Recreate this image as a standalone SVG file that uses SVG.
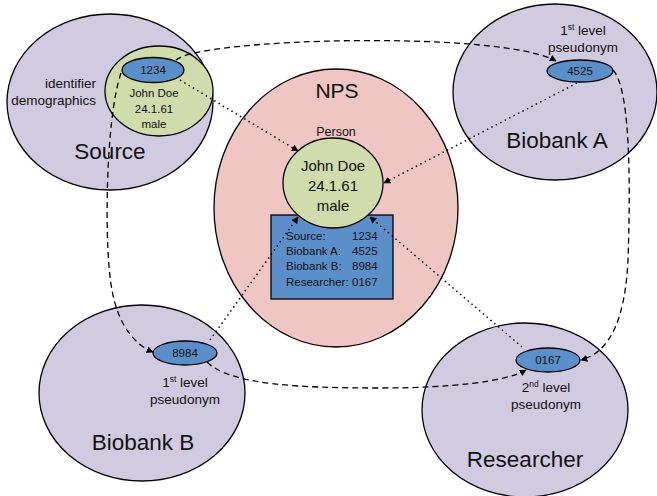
<svg xmlns="http://www.w3.org/2000/svg" width="657" height="496" viewBox="0 0 657 496">
<defs>
<style>
.org{fill:#d1cbe1;stroke:#000;stroke-width:1.3}
.nps{fill:#efc6c1;stroke:#000;stroke-width:1.3}
.per{fill:#d0dcab;stroke:#000;stroke-width:1.3}
.id{fill:#5b8fc9;stroke:#000;stroke-width:1.3}
text{font-family:"Liberation Sans",Arial,sans-serif;fill:#111}
.big{font-size:22.5px;text-anchor:middle}
.mid{font-size:13.5px;text-anchor:middle}
.sm{font-size:11.5px;text-anchor:middle}
.tb{font-size:11.5px}
.dash{fill:none;stroke:#000;stroke-width:1.3;stroke-dasharray:6 4;marker-end:url(#ah)}
.dot{fill:none;stroke:#000;stroke-width:1.5;stroke-dasharray:1.5 3.5;marker-end:url(#ah)}
</style>
<marker id="ah" viewBox="0 0 10 10" refX="9" refY="5" markerWidth="7" markerHeight="7" markerUnits="userSpaceOnUse" orient="auto">
<path d="M0,0 L10,5 L0,10 z" fill="#000"/>
</marker>
</defs>
<g id="source">
<ellipse class="org" cx="110" cy="102" rx="103" ry="88"/>
<ellipse class="per" cx="159" cy="91" rx="54" ry="45"/>
<ellipse class="id" cx="153" cy="70" rx="31" ry="12.5"/>
<text class="sm" x="153" y="74">1234</text>
<text class="sm" x="154" y="97">John Doe</text>
<text class="sm" x="154" y="113">24.1.61</text>
<text class="sm" x="154" y="128">male</text>
<text x="96" y="88" style="font-size:13.5px;text-anchor:end">identifier</text>
<text x="96" y="105" style="font-size:13.5px;text-anchor:end">demographics</text>
<text class="big" x="110" y="159">Source</text>
</g>
<g id="biobankA">
<ellipse class="org" cx="555" cy="92" rx="102" ry="88"/>
<ellipse class="id" cx="580" cy="71" rx="33" ry="11"/>
<text class="sm" x="580" y="75">4525</text>
<text class="mid" x="583" y="35">1<tspan style="font-size:8.5px" dy="-5">st</tspan><tspan dy="5"> level</tspan></text>
<text class="mid" x="583" y="52">pseudonym</text>
<text class="big" x="557" y="148">Biobank A</text>
</g>
<g id="nps">
<ellipse class="nps" cx="336" cy="208" rx="122" ry="139"/>
<text x="337" y="98" style="font-size:21px;text-anchor:middle">NPS</text>
<text x="336" y="136" style="font-size:12.5px;text-anchor:middle">Person</text>
<rect x="271" y="215" width="122" height="84" fill="#5b8fc9" stroke="#000" stroke-width="1.3"/>
<ellipse class="per" cx="333" cy="183" rx="50" ry="45"/>
<text x="333" y="171" style="font-size:15px;text-anchor:middle">John Doe</text>
<text x="333" y="191" style="font-size:15px;text-anchor:middle">24.1.61</text>
<text x="333" y="211" style="font-size:15px;text-anchor:middle">male</text>
<text class="tb" x="286" y="240">Source:</text><text class="tb" x="352" y="240">1234</text>
<text class="tb" x="286" y="255">Biobank A:</text><text class="tb" x="352" y="255">4525</text>
<text class="tb" x="286" y="270">Biobank B:</text><text class="tb" x="352" y="270">8984</text>
<text class="tb" x="286" y="286">Researcher:</text><text class="tb" x="352" y="286">0167</text>
</g>
<g id="biobankB">
<ellipse class="org" cx="142" cy="393" rx="103" ry="88"/>
<ellipse class="id" cx="185" cy="353" rx="32" ry="12"/>
<text class="sm" x="185" y="357">8984</text>
<text class="mid" x="185" y="387">1<tspan style="font-size:8.5px" dy="-5">st</tspan><tspan dy="5"> level</tspan></text>
<text class="mid" x="185" y="404">pseudonym</text>
<text class="big" x="143" y="450">Biobank B</text>
</g>
<g id="researcher">
<ellipse class="org" cx="525" cy="410" rx="103" ry="87"/>
<ellipse class="id" cx="548" cy="360" rx="32" ry="12"/>
<text class="sm" x="548" y="364">0167</text>
<text class="mid" x="546" y="392">2<tspan style="font-size:8.5px" dy="-5">nd</tspan><tspan dy="5"> level</tspan></text>
<text class="mid" x="546" y="409">pseudonym</text>
<text class="big" x="525" y="467">Researcher</text>
</g>
<g id="connectors">
<path class="dash" d="M176,60 C200,38 500,30 556,61"/>
<path class="dash" d="M613,70 C632,90 630,200 628,260 C625,320 610,352 581,360"/>
<path class="dash" d="M121,73 C105,120 104,250 112,290 C118,325 135,345 153,352"/>
<path class="dash" d="M207,362 C230,385 300,388 380,388 C450,388 505,382 526,370"/>
<path class="dot" d="M180,80 L298,151"/>
<path class="dot" d="M577,83 L384,183"/>
<path class="dot" d="M210,340 L298,217"/>
<path class="dot" d="M522,347 L370,217"/>
</g>
</svg>
